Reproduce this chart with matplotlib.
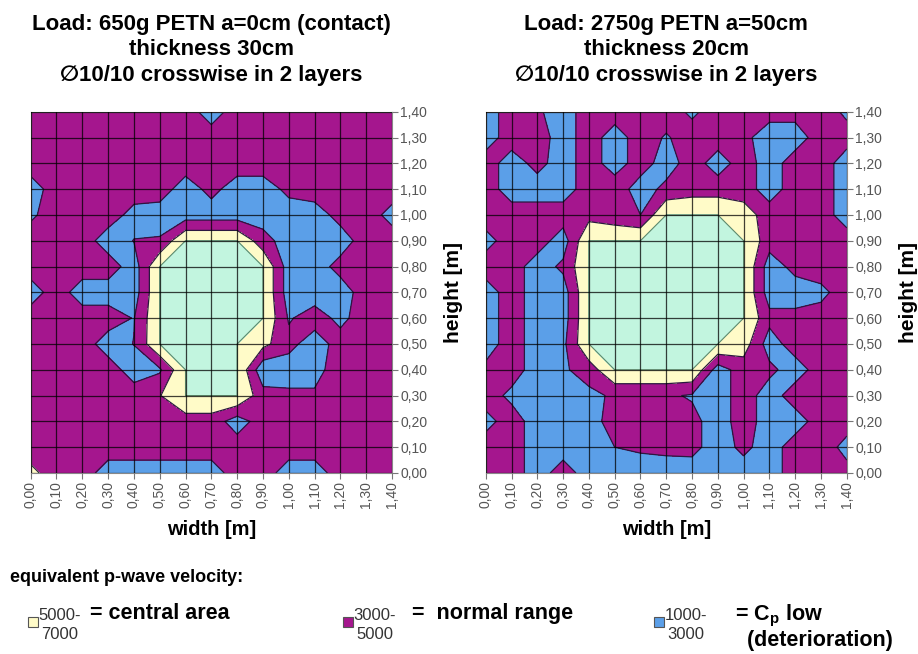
import numpy as np
import matplotlib
matplotlib.use("Agg")
import matplotlib.pyplot as plt
from matplotlib.patches import Rectangle

plt.rcParams['font.family'] = ['Liberation Sans', 'DejaVu Sans']
plt.rcParams['mathtext.fontset'] = 'custom'
plt.rcParams['mathtext.rm'] = 'Liberation Sans'
plt.rcParams['mathtext.bf'] = 'Liberation Sans:bold'

# grid positions [m]
width_m = [0.0, 0.1, 0.2, 0.3, 0.4, 0.5, 0.6, 0.7, 0.8, 0.9, 1.0, 1.1, 1.2, 1.3, 1.4]
height_m = [0.0, 0.1, 0.2, 0.3, 0.4, 0.5, 0.6, 0.7, 0.8, 0.9, 1.0, 1.1, 1.2, 1.3, 1.4]
tick_labels = ["0,00", "0,10", "0,20", "0,30", "0,40", "0,50", "0,60", "0,70",
               "0,80", "0,90", "1,00", "1,10", "1,20", "1,30", "1,40"]

# velocity classes [m/s] and their colours
bounds = [1000, 3000, 5000, 7000, 9000]
band_colors = ['#5b9fe8', '#a5168e', '#fffbc8', '#c2f5df']

# equivalent p-wave velocity, rows listed from height 1,40 (top) down to 0,00
vel_left = [
    [4000, 4000, 4000, 4000, 4000, 4000, 4000, 2000, 4000, 4000, 4000, 4000, 4000, 4000, 4000],
    [4000, 4000, 4000, 4000, 4000, 4000, 4000, 4000, 4000, 4000, 4000, 4000, 4000, 4000, 4000],
    [4000, 4000, 4000, 4000, 4000, 4000, 4000, 4000, 4000, 4000, 4000, 4000, 4000, 4000, 4000],
    [2000, 4000, 4000, 4000, 4000, 4000, 2000, 3600, 2000, 2000, 3500, 4000, 4000, 4000, 4000],
    [2650, 4000, 4000, 4000, 2300, 2000, 2000, 2000, 2000, 2000, 2000, 2000, 3720, 4000, 2300],
    [4000, 4000, 4000, 2000, 3050, 3200, 7000, 7000, 7000, 3800, 2000, 2000, 2000, 4000, 4000],
    [4000, 4000, 4000, 4000, 2000, 7000, 7000, 7000, 7000, 7000, 2000, 2000, 3700, 4000, 4000],
    [2000, 4000, 2000, 2000, 2000, 7000, 7000, 7000, 7000, 7000, 2000, 2000, 2000, 4000, 4000],
    [4000, 4000, 4000, 4000, 2900, 7000, 7000, 7000, 7000, 7000, 2800, 3900, 2500, 4000, 4000],
    [4000, 4000, 4000, 2000, 3050, 7000, 7000, 7000, 7000, 5600, 3600, 2000, 3800, 4000, 4000],
    [4000, 4000, 4000, 4000, 2000, 2700, 7000, 7000, 7000, 1500, 2000, 2000, 4500, 4000, 4000],
    [4000, 4000, 4000, 4000, 4000, 4900, 7000, 7000, 7000, 3800, 3400, 3400, 4000, 4000, 4000],
    [4000, 4000, 4000, 4000, 4000, 4100, 4100, 4100, 2000, 4000, 4000, 4000, 4000, 4000, 4000],
    [4000, 4000, 4000, 4000, 4000, 4000, 4000, 4000, 4000, 4000, 4000, 4000, 4000, 4000, 4000],
    [5500, 4000, 4000, 2000, 2000, 2000, 2000, 2000, 4000, 4000, 2000, 2000, 4000, 4000, 4000],
]

vel_right = [
    [2000, 4000, 3300, 2000, 4000, 4000, 4000, 4000, 2600, 4000, 4000, 3700, 3700, 4000, 2600],
    [2000, 4000, 4000, 2000, 4000, 2000, 4000, 2800, 4000, 4000, 3500, 2000, 2000, 4000, 3800],
    [4000, 2000, 3640, 2000, 4000, 2000, 4000, 2000, 4000, 2000, 4000, 2000, 4000, 4000, 2000],
    [4000, 2000, 2000, 2000, 4000, 4200, 2000, 3550, 4100, 4100, 4000, 2000, 4000, 4000, 2000],
    [4000, 4000, 4000, 4000, 4300, 3700, 3000, 7000, 7000, 7000, 6000, 4000, 4000, 4000, 2000],
    [2300, 4000, 4000, 2000, 7000, 7000, 7000, 7000, 7000, 7000, 7000, 3830, 4000, 4000, 4000],
    [4000, 4000, 2000, 3400, 7000, 7000, 7000, 7000, 7000, 7000, 7000, 2000, 3600, 4000, 4000],
    [2000, 4000, 2000, 2000, 7000, 7000, 7000, 7000, 7000, 7000, 7000, 2000, 2000, 2500, 4000],
    [2000, 4000, 2000, 2000, 7000, 7000, 7000, 7000, 7000, 7000, 7000, 3600, 3600, 3800, 4000],
    [2000, 4000, 2000, 2500, 7000, 7000, 7000, 7000, 7000, 7000, 6000, 2000, 4000, 4000, 4000],
    [3500, 4000, 2000, 2700, 3900, 7000, 7000, 7000, 7000, 2000, 4000, 3500, 2000, 4000, 4000],
    [4000, 2500, 2000, 2000, 2500, 3300, 3300, 3300, 2800, 2000, 4000, 2000, 4000, 4000, 4000],
    [2300, 4000, 2000, 2000, 2000, 4000, 4000, 4000, 3600, 2000, 4000, 2000, 2000, 4000, 3800],
    [4000, 4000, 2000, 2000, 2000, 3000, 3300, 3500, 3600, 2000, 3500, 2000, 4000, 4000, 2400],
    [4000, 4000, 2000, 4000, 2000, 2000, 2000, 2000, 2000, 2000, 2000, 2000, 4000, 4000, 3600],
]

titles = [
    "Load: 650g PETN a=0cm (contact)\nthickness 30cm\n\u220510/10 crosswise in 2 layers",
    "Load: 2750g PETN a=50cm\nthickness 20cm\n\u220510/10 crosswise in 2 layers",
]


def draw_panel(ax, vel, title):
    z = np.flipud(np.array(vel, dtype=float))
    # classes are closed at the lower bound, so shift the edges a hair down
    lv = np.array(bounds, dtype=float) - 0.5
    ax.contourf(width_m, height_m, z, levels=lv, colors=band_colors)
    ax.contour(width_m, height_m, z, levels=lv[1:3], colors='#2b1840', linewidths=0.9)
    ax.contour(width_m, height_m, z, levels=lv[3:4], colors='#5f8a6c', linewidths=0.8)

    ax.set_xlim(0, 1.4)
    ax.set_ylim(0, 1.4)
    ax.set_xticks(width_m)
    ax.set_yticks(height_m)
    ax.set_xticklabels(tick_labels, rotation=90)
    ax.set_yticklabels(tick_labels)
    ax.yaxis.tick_right()
    ax.yaxis.set_label_position('right')
    ax.tick_params(labelsize=10, colors='#777777', labelcolor='#555555',
                   length=4, width=0.8, pad=2)
    ax.set_axisbelow(False)
    ax.grid(True, color='black', alpha=0.75, linewidth=0.9)
    for s in ax.spines.values():
        s.set_color('#888888')
        s.set_linewidth(0.8)

    ax.set_xlabel("width [m]", fontsize=14.5, fontweight='bold', labelpad=8)
    ax.set_ylabel("height [m]", fontsize=15, fontweight='bold', labelpad=12)
    ax.set_title(title, fontsize=16, fontweight='bold', linespacing=1.3, pad=22)


fig = plt.figure(figsize=(9.18, 6.54), dpi=100)
ax1 = fig.add_axes([0.0334, 0.2768, 0.3936, 0.5524])
ax2 = fig.add_axes([0.5291, 0.2768, 0.3933, 0.5524])
draw_panel(ax1, vel_left, titles[0])
draw_panel(ax2, vel_right, titles[1])

# legend below the charts
W, H = 918.0, 654.0
fig.text(10 / W, 1 - 578 / H, "equivalent p-wave velocity:", fontsize=13,
         fontweight='bold', va='center')

legend_ranges = ["5000-\n7000", "3000-\n5000", "1000-\n3000"]
legend_names = ["= central area", "=  normal range", "= C$_\\mathbf{p}$ low\n  (deterioration)"]
legend_colors = [band_colors[2], band_colors[1], band_colors[0]]
legend_x = [28, 343, 654]
name_x = [90, 412, 735]

for rng, name, col, x0, xn in zip(legend_ranges, legend_names, legend_colors, legend_x, name_x):
    fig.patches.append(Rectangle((x0 / W, 1 - 627 / H), 10 / W, 10 / H,
                                 transform=fig.transFigure, facecolor=col,
                                 edgecolor='#555555', linewidth=0.8))
    fig.text((x0 + 32) / W, 1 - 608 / H, rng, fontsize=12, color='#333333',
             ha='center', va='top', multialignment='center', linespacing=1.35)
    fig.text(xn / W, 1 - 603 / H, name, fontsize=15.5, fontweight='bold',
             va='top', linespacing=1.05)

fig.savefig("out.png", dpi=100)
